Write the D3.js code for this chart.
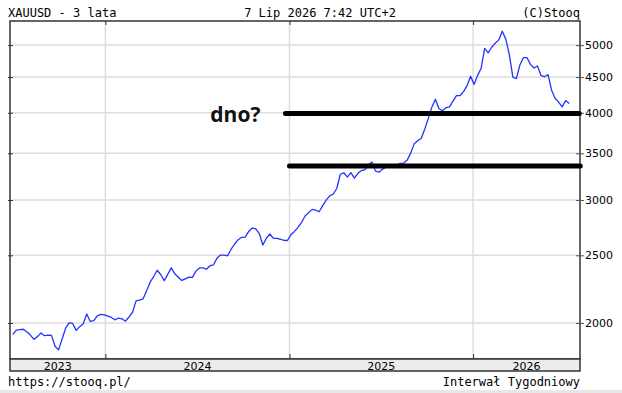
<!DOCTYPE html>
<html>
<head>
<meta charset="utf-8">
<script src="https://cdn.jsdelivr.net/npm/d3@7"></script>
<style>
	body { margin: 0; background: #fff; }
	svg { display: block; }
	.mono { font-family: "DejaVu Sans Mono", monospace; font-size: 12px; fill: #000; }
	.lbl { font-family: "DejaVu Sans", sans-serif; font-size: 11px; fill: #000; }
</style>
</head>
<body>
<svg id="chart" width="622" height="393"></svg>
<script>
// weekly closes, first week starting 2023-07-01
var start_date = "2023-07-01";
var closes = [
	1926, 1954, 1957, 1959, 1941, 1922, 1895, 1912, 1935, 1918,
	1922, 1920, 1852, 1830, 1897, 1966, 2000, 1997, 1952, 1976,
	1995, 2060, 2010, 2015, 2048, 2057, 2054, 2046, 2037, 2021,
	2033, 2028, 2012, 2040, 2072, 2151, 2157, 2166, 2224, 2288,
	2331, 2380, 2347, 2300, 2348, 2399, 2352, 2326, 2301, 2313,
	2327, 2325, 2373, 2398, 2399, 2388, 2416, 2423, 2477, 2502,
	2501, 2496, 2551, 2595, 2632, 2653, 2655, 2705, 2736, 2727,
	2686, 2586, 2645, 2682, 2644, 2644, 2636, 2626, 2625, 2677,
	2705, 2741, 2786, 2846, 2878, 2909, 2902, 2886, 2945, 2999,
	3042, 3060, 3116, 3266, 3282, 3236, 3284, 3225, 3276, 3306,
	3317, 3372, 3400, 3300, 3289, 3322, 3344, 3355, 3344, 3366,
	3386, 3389, 3422, 3502, 3613, 3648, 3679, 3793, 3927, 4075,
	4184, 4058, 4026, 4068, 4078, 4156, 4232, 4235, 4290, 4374,
	4513, 4393, 4525, 4634, 4946, 4875, 4965, 5032, 5087, 5235,
	5100, 4846, 4498, 4478, 4683, 4799, 4799, 4692, 4636, 4668,
	4522, 4505, 4537, 4310, 4196, 4143, 4079, 4164, 4125
];
var y_ticks = [2000, 2500, 3000, 3500, 4000, 4500, 5000];
var years = [2023, 2024, 2025, 2026];

// hand drawn support lines
var levels = [3989, 3355];
var level_from = ["2024-12-24", "2025-01-01"];
var level_to = ["2026-07-31", "2026-08-02"];
var note = "dno?";

var title_left = "XAUUSD - 3 lata";
var title_mid = "7 Lip 2026 7:42 UTC+2";
var title_right = "(C)Stooq";
var foot_left = "https://stooq.pl/";
var foot_right = "Interwał Tygodniowy";

var L = 10, R = 580, T = 21, B = 359;
var parse = d3.utcParse("%Y-%m-%d");

var svg = d3.select("#chart");

var x = d3.scaleUtc()
	.domain([new Date(Date.UTC(2023, 5, 25, 10)), new Date(Date.UTC(2026, 7, 1, 12))])
	.range([L, R]);
var y = d3.scaleLog().domain([1776, 5414]).range([B, T]);

var first = parse(start_date);
var series = closes.map(function(v, i) {
	return {date: d3.utcDay.offset(first, i * 7), value: v};
});
var year_starts = years.slice(1).map(function(yr) { return new Date(Date.UTC(yr, 0, 1)); });

// grid
svg.append("g").selectAll("line").data(y_ticks).join("line")
	.attr("x1", L).attr("x2", R)
	.attr("y1", function(d) { return y(d); })
	.attr("y2", function(d) { return y(d); })
	.attr("stroke", "#dedede").attr("stroke-width", 1.5);
svg.append("g").selectAll("line").data(year_starts).join("line")
	.attr("x1", function(d) { return x(d); })
	.attr("x2", function(d) { return x(d); })
	.attr("y1", T).attr("y2", B)
	.attr("stroke", "#dedede").attr("stroke-width", 1.5);

// price line
svg.append("path").datum(series)
	.attr("fill", "none")
	.attr("stroke", "#2233ff")
	.attr("stroke-width", 1.3)
	.attr("stroke-linejoin", "round")
	.attr("d", d3.line().x(function(d) { return x(d.date); }).y(function(d) { return y(d.value); }));

// frame
svg.append("rect").attr("x", L).attr("y", T).attr("width", R - L).attr("height", B - T)
	.attr("fill", "none").attr("stroke", "#333").attr("stroke-width", 1.5);

// axes ticks
var right_axis = d3.axisRight(y).tickValues(y_ticks).tickSize(8).tickPadding(1)
	.tickFormat(d3.format("d"));
var ra = svg.append("g").attr("transform", "translate(" + (R - 4) + ",0)").call(right_axis);
ra.select(".domain").remove();
ra.selectAll("line").attr("stroke", "#555");
ra.selectAll("text").attr("class", "lbl").attr("font-family", null).attr("font-size", null);

var la = svg.append("g").attr("transform", "translate(" + (L + 3) + ",0)")
	.call(d3.axisLeft(y).tickValues(y_ticks).tickSize(5).tickFormat(""));
la.select(".domain").remove();
la.selectAll("line").attr("stroke", "#333");

var ta = svg.append("g").attr("transform", "translate(0," + T + ")")
	.call(d3.axisBottom(x).tickValues(year_starts).tickSize(4).tickFormat(""));
ta.select(".domain").remove();
ta.selectAll("line").attr("stroke", "#333");
var ba = svg.append("g").attr("transform", "translate(0," + B + ")")
	.call(d3.axisTop(x).tickValues(year_starts).tickSize(5).tickFormat(""));
ba.select(".domain").remove();
ba.selectAll("line").attr("stroke", "#333");

// year band
svg.append("rect").attr("x", L).attr("y", B).attr("width", R - L).attr("height", 12)
	.attr("fill", "#ececec").attr("stroke", "#333").attr("stroke-width", 1.5);
svg.append("g").selectAll("text").data(years).join("text")
	.attr("class", "lbl")
	.attr("text-anchor", "middle")
	.attr("x", function(yr) {
		var a = Math.max(x(new Date(Date.UTC(yr, 0, 1))), L);
		var b = Math.min(x(new Date(Date.UTC(yr + 1, 0, 1))), R);
		return (a + b) / 2;
	})
	.attr("y", B + 10.5)
	.text(function(yr) { return yr; });

// support lines
svg.append("g").selectAll("line").data(levels).join("line")
	.attr("x1", function(d, i) { return x(parse(level_from[i])); })
	.attr("x2", function(d, i) { return x(parse(level_to[i])); })
	.attr("y1", function(d) { return y(d); })
	.attr("y2", function(d) { return y(d); })
	.attr("stroke", "#000").attr("stroke-width", 5).attr("stroke-linecap", "round");

svg.append("text")
	.attr("x", x(parse(level_from[0])) - 25)
	.attr("y", y(levels[0]) + 8)
	.attr("text-anchor", "end")
	.attr("font-family", "'Open Sans', sans-serif")
	.attr("font-weight", "bold")
	.attr("font-size", 21)
	.attr("fill", "#111")
	.text(note);

// header / footer
svg.append("text").attr("class", "mono").attr("x", 8).attr("y", 17).text(title_left);
svg.append("text").attr("class", "mono").attr("x", 320).attr("y", 17).attr("text-anchor", "middle").text(title_mid);
svg.append("text").attr("class", "mono").attr("x", R).attr("y", 17).attr("text-anchor", "end").text(title_right);
svg.append("text").attr("class", "mono").attr("x", 8).attr("y", 386).text(foot_left);
svg.append("text").attr("class", "mono").attr("x", R).attr("y", 386).attr("text-anchor", "end").text(foot_right);
svg.append("rect").attr("x", 0).attr("y", 390).attr("width", 622).attr("height", 3).attr("fill", "#e8e8e8");
</script>
</body>
</html>
